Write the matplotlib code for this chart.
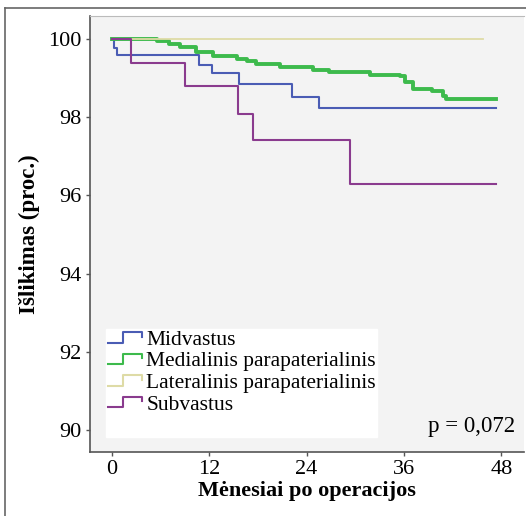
import numpy as np
import matplotlib
matplotlib.use('Agg')
import matplotlib.pyplot as plt
from matplotlib.lines import Line2D
from matplotlib.legend_handler import HandlerBase

# survival curves (months, percent)
midvastus_t = [0, 0.3, 0.6, 10.75, 12.3, 15.7, 22.2, 25.5, 47.3]
midvastus_s = [100, 99.76, 99.59, 99.33, 99.12, 98.86, 98.52, 98.24, 98.24]

medial_t = [0, 5.5, 7.1, 8.4, 10.4, 12.5, 15.4, 16.6, 17.8, 20.7, 24.8,
            26.8, 31.8, 35.5, 36.1, 37.1, 39.5, 40.8, 41.2, 47.3]
medial_s = [100, 99.96, 99.87, 99.79, 99.68, 99.57, 99.49, 99.44, 99.36, 99.29,
            99.21, 99.15, 99.08, 99.06, 98.89, 98.72, 98.67, 98.55, 98.46, 98.46]

lateral_t = [0, 45.7]
lateral_s = [100, 100]

subvastus_t = [0, 2.4, 9.05, 15.6, 17.4, 29.3, 47.3]
subvastus_s = [100, 99.4, 98.8, 98.08, 97.43, 96.3, 96.3]

labels = ['Midvastus', 'Medialinis parapaterialinis',
          'Lateralinis parapaterialinis', 'Subvastus']
colors = ['#4a5cb4', '#3dba4c', '#dedba6', '#8a3b8e']
widths = [1.5, 2.8, 1.3, 1.5]

xticks = [0, 12, 24, 36, 48]
yticks = [90, 92, 94, 96, 98, 100]

plt.rcParams['font.family'] = ['Liberation Serif', 'DejaVu Serif']


class StepHandler(HandlerBase):
    # small step shaped legend key, like the SPSS output
    def create_artists(self, legend, orig_handle, xdescent, ydescent,
                       width, height, fontsize, trans):
        x0 = -xdescent
        y0 = -ydescent
        xs = [x0, x0 + width * 0.45, x0 + width * 0.45, x0 + width, x0 + width]
        ys = [y0 + height * 0.15, y0 + height * 0.15, y0 + height * 0.85,
              y0 + height * 0.85, y0 + height * 0.55]
        ln = Line2D(xs, ys, color=orig_handle.get_color(), lw=1.5, transform=trans)
        return [ln]


fig = plt.figure(figsize=(5.26, 5.16), dpi=100)
ax = fig.add_axes([90 / 526, 1 - 452 / 516, 434 / 526, 436 / 516])
ax.set_facecolor('#f3f3f3')

series = [(midvastus_t, midvastus_s), (medial_t, medial_s),
          (lateral_t, lateral_s), (subvastus_t, subvastus_s)]
handles = []
for (t, s), lab, c, w in zip(series, labels, colors, widths):
    h, = ax.step(t, s, where='post', color=c, lw=w, label=lab)
    handles.append(h)

ax.set_xlim(-2.7, 50.8)
ax.set_ylim(89.44, 100.59)
ax.set_xticks(xticks)
ax.set_yticks(yticks)
ax.tick_params(axis='both', labelsize=16, length=3, width=1, color='#555555', pad=3)
for sp in ['left', 'bottom']:
    ax.spines[sp].set_color('#555555')
    ax.spines[sp].set_linewidth(1.2)
ax.spines['top'].set_color('#bbbbbb')
ax.spines['right'].set_visible(False)

ax.set_xlabel('Mėnesiai po operacijos', fontsize=16, fontweight='bold', labelpad=1)
ax.set_ylabel('Išlikimas (proc.)', fontsize=16.5, fontweight='bold', labelpad=6)

# blank last row keeps the white box running down to the axis like the original
leg = ax.legend(handles=handles + [Line2D([], [], color='white', lw=0)],
                labels=labels + [' '],
                loc='lower left', bbox_to_anchor=(0.038, 0.034),
                handler_map={Line2D: StepHandler()}, fontsize=15.5, frameon=True,
                fancybox=False, handlelength=1.6, handletextpad=0.2,
                labelspacing=0.07, borderpad=0.05, borderaxespad=0)
leg.get_frame().set_facecolor('white')
leg.get_frame().set_edgecolor('white')
leg.get_frame().set_alpha(1)

ax.text(0.98, 0.035, 'p = 0,072', transform=ax.transAxes, ha='right', va='bottom',
        fontsize=16.5)

# outer frame of the picture
fig.add_artist(Line2D([5 / 526, 5 / 526], [0, 1 - 8 / 516], transform=fig.transFigure,
                      color='#666666', lw=1.2))
fig.add_artist(Line2D([5 / 526, 1], [1 - 8 / 516, 1 - 8 / 516], transform=fig.transFigure,
                      color='#666666', lw=1.2))

fig.savefig('out.png', dpi=100)
